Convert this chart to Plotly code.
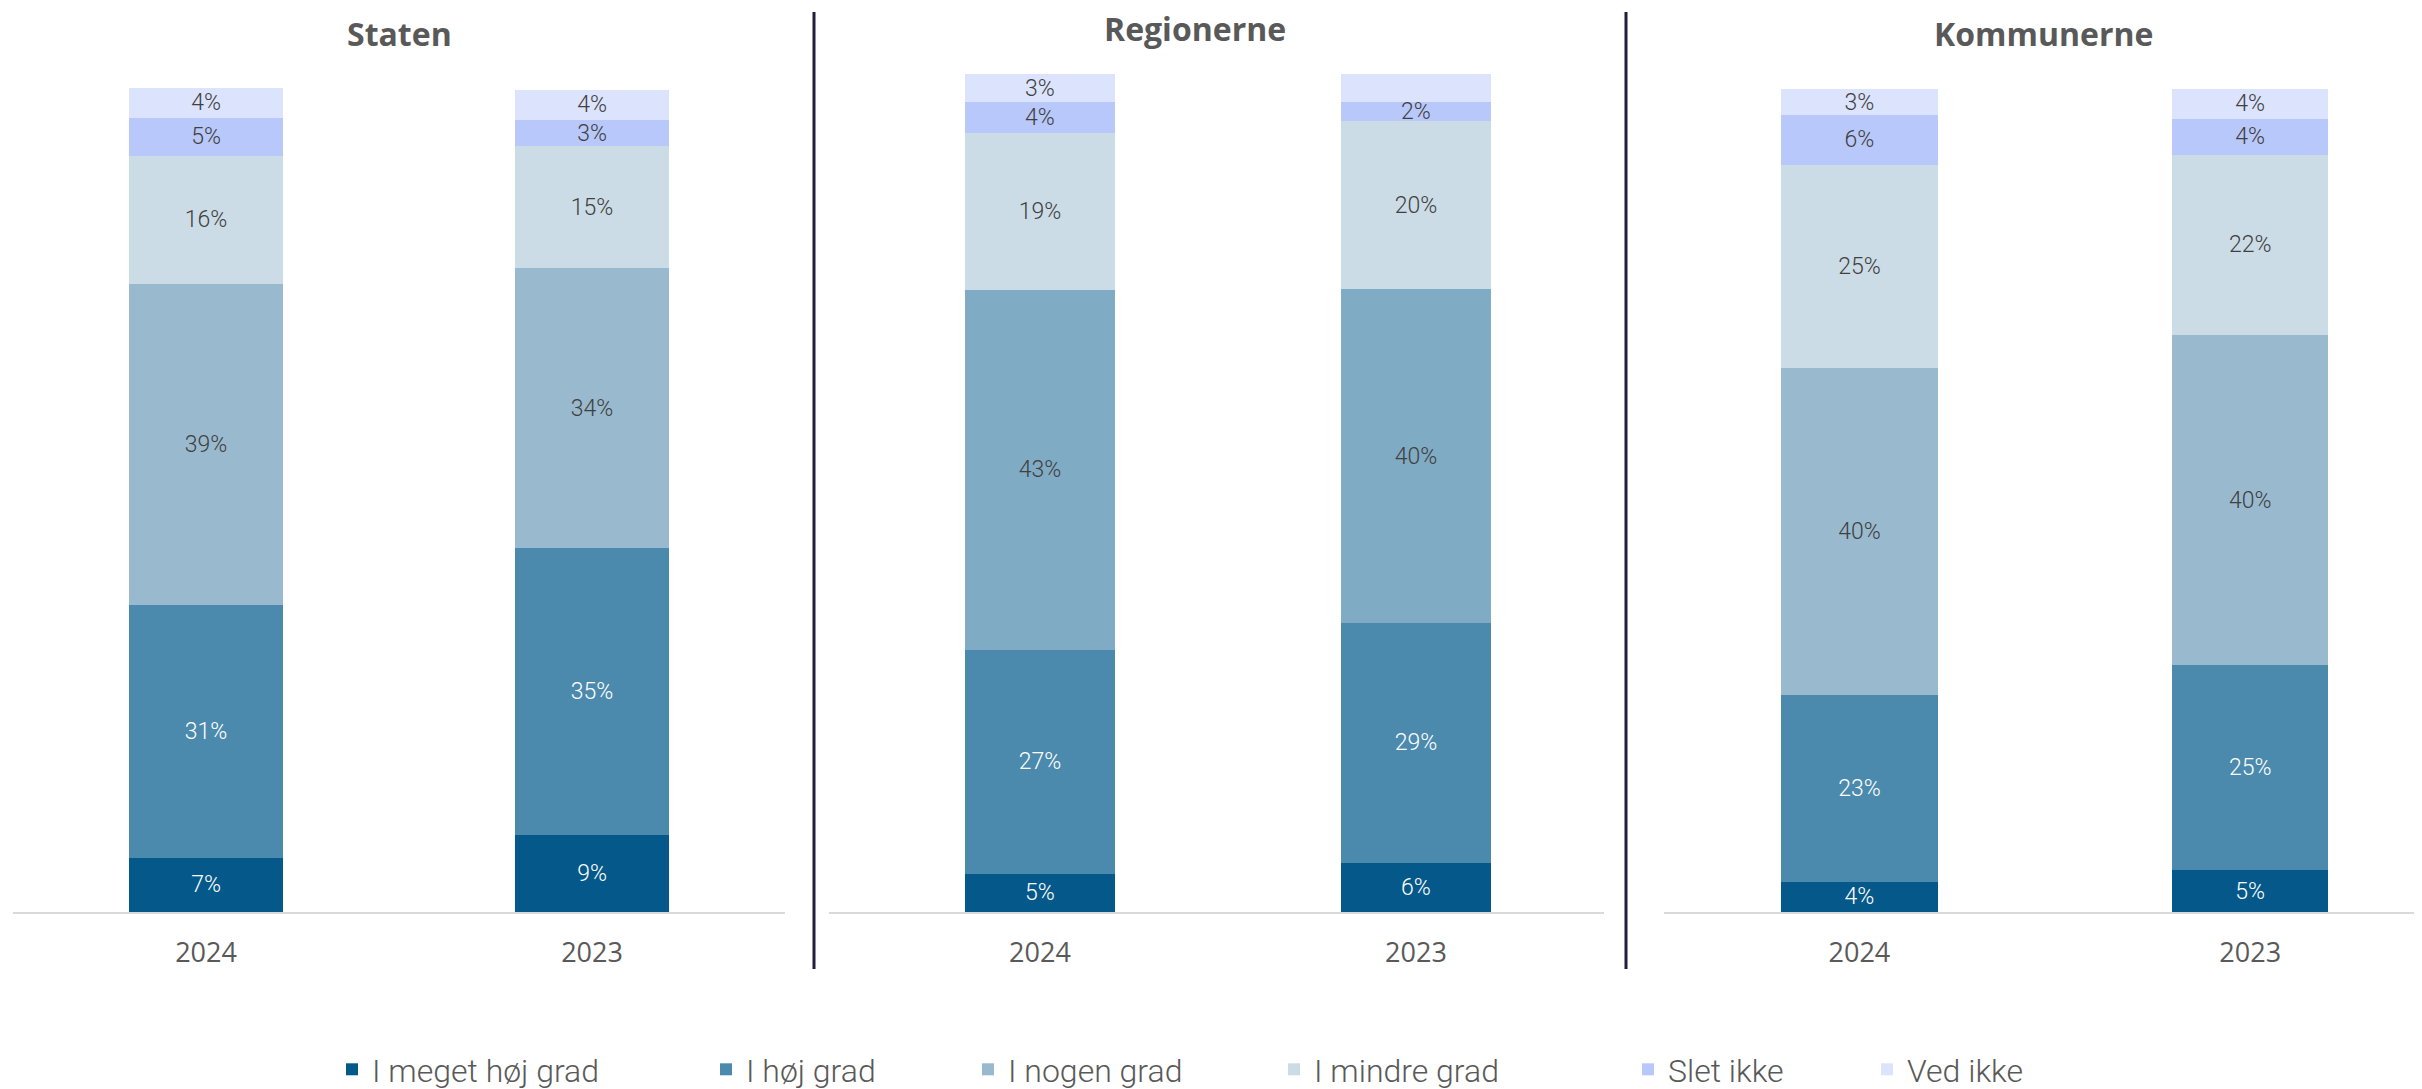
import plotly.graph_objects as go

W, H = 2422, 1089
PAGE_OFFSET = 8  # default body margin of the written page

years = ["2024", "2023"]
levels = ["I meget høj grad", "I høj grad", "I nogen grad", "I mindre grad", "Slet ikke", "Ved ikke"]
panels = ["Staten", "Regionerne", "Kommunerne"]

# shares per level (bottom -> top)
staten_2024 = [6.6, 30.7, 38.9, 15.6, 4.6, 3.6]
staten_2023 = [9.4, 34.8, 33.9, 14.8, 3.2, 3.7]
regioner_2024 = [4.6, 26.7, 42.9, 18.8, 3.6, 3.4]
regioner_2023 = [5.9, 28.6, 39.8, 20.1, 2.2, 3.4]
kommuner_2024 = [3.7, 22.7, 39.7, 24.7, 6.0, 3.2]
kommuner_2023 = [5.1, 24.9, 40.1, 21.9, 4.4, 3.6]

colors = ["#05598A", "#4B8AAD", "#99BACE", "#CCDCE6", "#B9C8FA", "#DCE3FC"]
nogen_colors = ["#99BACE", "#80ABC4", "#99BACE"]
text_colors = ["white", "white", "#404040", "#404040", "#404040", "#404040"]

label_font = "Roboto, sans-serif"
grey = "#595959"


def px(v):
    return (v - PAGE_OFFSET) / W


def py(v):
    return 1 - (v - PAGE_OFFSET) / H


panel_data = [
    (staten_2024, staten_2023),
    (regioner_2024, regioner_2023),
    (kommuner_2024, kommuner_2023),
]

legend_ids = ["legend"] + ["legend%d" % (i + 1) for i in range(1, len(levels))]

fig = go.Figure()

for p, (v24, v23) in enumerate(panel_data):
    suffix = "" if p == 0 else str(p + 1)
    for i, name in enumerate(levels):
        col = nogen_colors[p] if i == 2 else colors[i]
        fig.add_trace(go.Bar(
            x=years,
            y=[v24[i], v23[i]],
            name=name,
            legendgroup=name,
            legend=legend_ids[i],
            showlegend=(p == 0),
            marker=dict(color=col, line=dict(width=0)),
            width=0.4,
            texttemplate="%{y:.0f}%",
            textposition="inside",
            insidetextanchor="middle",
            textangle=0,
            constraintext="none",
            cliponaxis=False,
            insidetextfont=dict(family=label_font, size=23, weight=300, color=text_colors[i]),
            xaxis="x" + suffix,
            yaxis="y" + suffix,
            hoverinfo="skip",
        ))

# page pixel positions of the panels (axis line ends, bar-top level)
xdomains = [[px(13), px(785)], [px(829), px(1604)], [px(1664), 1.0]]
xranges = [[-0.5, 1.5], [-0.561, 1.5], [-0.5, 1.46]]
ytops = [88, 74, 89]

layout = dict(
    width=W, height=H,
    autosize=False,
    margin=dict(l=0, r=0, t=0, b=0),
    paper_bgcolor="white",
    plot_bgcolor="white",
    barmode="stack",
    showlegend=True,
)

# one legend per entry so each one sits where the reference has it
legend_left = [346, 720, 982, 1288, 1642, 1881]
for lid, lx in zip(legend_ids, legend_left):
    layout[lid] = dict(
        orientation="h",
        x=px(lx - 14), y=py(1070),
        xanchor="left", yanchor="middle",
        font=dict(family=label_font, size=32, weight=300, color=grey),
        itemwidth=30,
        bgcolor="rgba(0,0,0,0)",
    )

for p in range(3):
    suffix = "" if p == 0 else str(p + 1)
    layout["xaxis" + suffix] = dict(
        domain=xdomains[p], range=xranges[p], type="category",
        anchor="y" + suffix,
        showline=True, linecolor="#D9D9D9", linewidth=2,
        showgrid=False, zeroline=False, ticks="",
        ticklabelstandoff=15,
        tickfont=dict(family="Open Sans, sans-serif", size=27, color=grey),
    )
    layout["yaxis" + suffix] = dict(
        domain=[py(913), py(ytops[p])], range=[0, 100],
        anchor="x" + suffix,
        visible=False, showgrid=False, zeroline=False,
    )

fig.update_layout(**layout)

# panel titles
title_pos = [(399, 57), (1195, 52), (2043, 57)]
for name, (tx, ty) in zip(panels, title_pos):
    fig.add_annotation(
        text="<b>" + name + "</b>", x=px(tx), y=py(ty),
        xref="paper", yref="paper", xanchor="center", yanchor="bottom",
        showarrow=False,
        font=dict(family="Open Sans, sans-serif", size=32, color=grey),
    )

# vertical dividers between panels
for dx in [814, 1626]:
    fig.add_shape(
        type="line", xref="paper", yref="paper",
        x0=px(dx), x1=px(dx), y0=py(970), y1=py(12),
        line=dict(color="#231F3A", width=3),
    )

fig.write_html("out.html")
